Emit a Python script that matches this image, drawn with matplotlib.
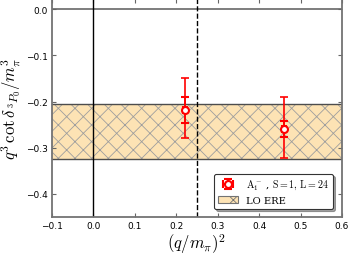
import matplotlib
matplotlib.use('Agg')
import matplotlib.pyplot as plt
from matplotlib.patches import Patch

plt.rcParams['mathtext.fontset'] = 'cm'
plt.rcParams['hatch.linewidth'] = 0.6

# data
q2 = [0.22, 0.46]
q2_err = [0.005, 0.005]
kcot = [-0.219, -0.260]
stat_lo = [0.028, 0.017]
stat_hi = [0.028, 0.017]
tot_lo = [0.061, 0.062]
tot_hi = [0.069, 0.070]
ere_band = (-0.324, -0.206)
q2_cut = 0.25

band_col = '#fde3b4'

fig = plt.figure(figsize=(3.49, 2.55), dpi=100)
ax = fig.add_axes([0.149, 0.145, 0.831, 0.855])

ax.axhline(0, color='0.45', lw=1.3, zorder=1)
ax.axvline(0, color='k', lw=1.0, zorder=2)
ax.axvline(q2_cut, color='k', lw=1.0, ls='--', zorder=2)

# band: fill + light hatch, dark border lines
ax.axhspan(ere_band[0], ere_band[1], facecolor=band_col, edgecolor='0.62',
           hatch='xx', lw=0, zorder=0)
for yb in ere_band:
    ax.axhline(yb, color='0.3', lw=1.0, zorder=1)

ax.errorbar(q2, kcot, yerr=[tot_lo, tot_hi], fmt='none', ecolor='r',
            elinewidth=1.2, capsize=3, capthick=1.2, zorder=3)
pts = ax.errorbar(q2, kcot, xerr=q2_err, yerr=[stat_lo, stat_hi], fmt='o', color='r',
                  mfc='w', mec='r', mew=1.5, ms=5, elinewidth=1.2, capsize=3,
                  capthick=1.2, zorder=4)

ax.set_xlim(-0.1, 0.6)
ax.set_ylim(-0.45, 0.022)
ax.set_xticks([-0.1, 0.0, 0.1, 0.2, 0.3, 0.4, 0.5, 0.6])
ax.set_yticks([0.0, -0.1, -0.2, -0.3, -0.4])
ax.set_xticklabels(['\u22120.1', '0.0', '0.1', '0.2', '0.3', '0.4', '0.5', '0.6'])
ax.set_yticklabels(['0.0', '\u22120.1', '\u22120.2', '\u22120.3', '\u22120.4'])
ax.tick_params(direction='in', top=True, right=True, labelsize=6.5,
               color='0.4', length=3, width=0.8, pad=3)
for s in ax.spines.values():
    s.set_color('0.45')
    s.set_linewidth(1.3)

ax.set_xlabel(r'$(q/m_\pi)^2$', fontsize=12, labelpad=1)
ax.set_ylabel(r'$q^3\,\cot\delta_{\,^3P_0}/m_\pi^3$', fontsize=12, labelpad=2)

band_handle = Patch(facecolor=band_col, edgecolor='0.45', hatch='x', lw=0.8)
leg = ax.legend([pts, band_handle],
                [r'$\mathrm{A_1^-}$ , $\mathrm{S=1,\,L=24}$', 'LO ERE'],
                loc='lower right', frameon=True, fancybox=True, shadow=True,
                borderpad=0.4, handlelength=2.0, labelspacing=0.4,
                bbox_to_anchor=(0.985, 0.015),
                prop={'family': 'serif', 'size': 7.2})
leg.get_frame().set_edgecolor('0.2')
leg.get_frame().set_linewidth(0.8)

fig.savefig('out.png', dpi=100)
